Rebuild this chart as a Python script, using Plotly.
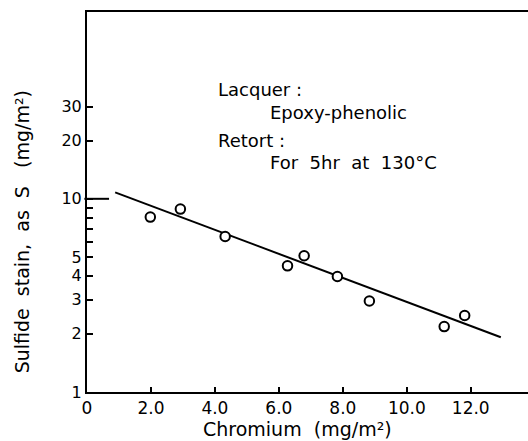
import plotly.graph_objects as go

# Data
chromium = [1.98, 2.92, 4.32, 6.27, 6.79, 7.83, 8.83, 11.17, 11.81]
sulfide = [8.04, 8.85, 6.38, 4.50, 5.07, 3.96, 2.96, 2.18, 2.49]
fit_x = [0.88, 12.94]
fit_y = [10.8, 1.92]

x_tickvals = [0, 2, 4, 6, 8, 10, 12]
x_ticktext = ["0", "2.0", "4.0", "6.0", "8.0", "10.0", "12.0"]
y_tickvals = [1, 2, 3, 4, 5, 10, 20, 30]
y_ticktext = ["1", "2", "3", "4", "5", "10", "20", "30"]
y_minor = [6, 7, 8, 9]

FONT = "DejaVu Sans, Liberation Sans, sans-serif"
SP = "\u00a0"

fig = go.Figure()
fig.add_trace(go.Scatter(x=fit_x, y=fit_y, mode="lines",
                         line=dict(color="black", width=2), showlegend=False))
fig.add_trace(go.Scatter(x=chromium, y=sulfide, mode="markers",
                         marker=dict(symbol="circle", size=9.5, color="white",
                                     line=dict(color="black", width=2)),
                         showlegend=False))

fig.update_layout(
    width=528, height=441,
    margin=dict(l=87, r=0, t=12, b=49),
    paper_bgcolor="white", plot_bgcolor="white",
    font=dict(family=FONT, color="black", size=16),
    xaxis=dict(range=[0, 13.79], showline=True, linecolor="black", linewidth=2,
               mirror=True, showgrid=False, zeroline=False,
               tickmode="array", tickvals=x_tickvals, ticktext=x_ticktext,
               ticks="inside", ticklen=5, tickwidth=1.5, tickcolor="black",
               tickfont=dict(size=17)),
    yaxis=dict(type="log", range=[0, 1.967], showline=True, linecolor="black",
               linewidth=2, showgrid=False, zeroline=False,
               tickmode="array", tickvals=y_tickvals, ticktext=y_ticktext,
               ticks="inside", ticklen=6, tickwidth=1.5, tickcolor="black",
               tickfont=dict(size=16),
               minor=dict(tickmode="array", tickvals=y_minor, ticks="inside",
                          ticklen=6, tickwidth=1.5, tickcolor="black")),
    showlegend=False,
)

# long tick at 10
fig.add_shape(type="line", xref="paper", yref="y", x0=-0.006, x1=0.05, y0=10, y1=10,
              line=dict(color="black", width=2))

# axis titles
fig.add_annotation(text="Chromium" + SP * 2 + "(mg/m²)", xref="paper", yref="paper",
                   x=0.4766, y=-0.097, showarrow=False, font=dict(size=19),
                   xanchor="center", yanchor="middle")
fig.add_annotation(text=("Sulfide" + SP * 2 + "stain," + SP * 2 + "as" + SP * 2 + "S"
                         + SP * 3 + "(mg/m²)"),
                   xref="paper", yref="paper",
                   x=-0.1466, y=0.421, showarrow=False, textangle=-90,
                   font=dict(size=19), xanchor="center", yanchor="middle")

# condition labels
labels = [("Lacquer" + SP + ":", 216, 90),
          ("Epoxy-phenolic", 268, 112),
          ("Retort" + SP + ":", 216, 140),
          ("For" + SP * 2 + "5hr" + SP * 2 + "at" + SP * 2 + "130°C", 268, 162)]
for txt, px, py in labels:
    fig.add_annotation(text=txt, xref="paper", yref="paper",
                       x=(px - 87) / 441, y=(392 - py) / 380, showarrow=False,
                       xanchor="left", yanchor="middle", font=dict(size=18))

fig.write_html("out.html")
